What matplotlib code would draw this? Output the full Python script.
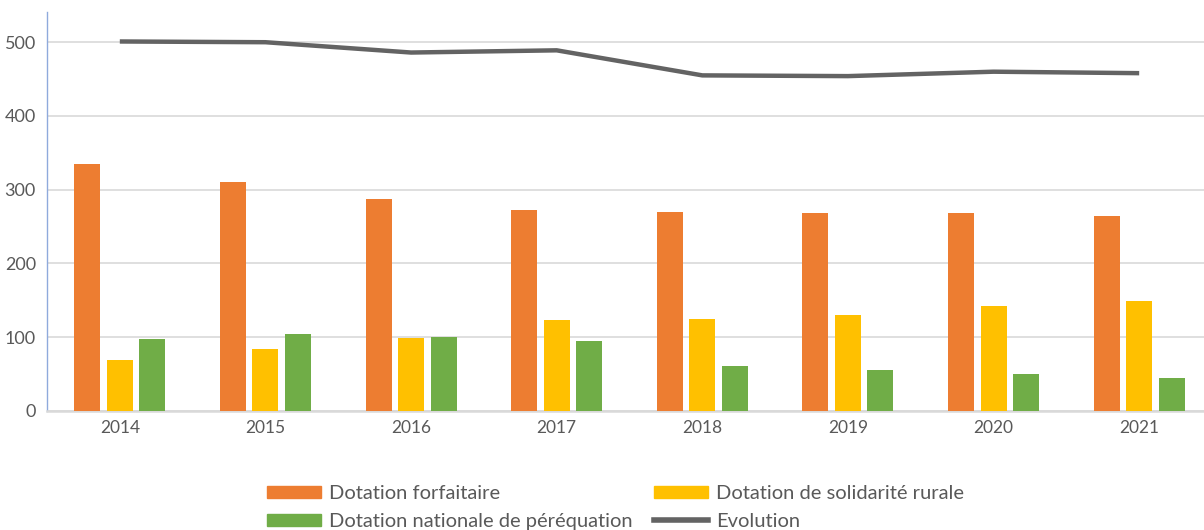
import matplotlib
matplotlib.use("Agg")
import matplotlib.pyplot as plt
import numpy as np
from matplotlib.patches import Patch
from matplotlib.lines import Line2D

years = ["2014", "2015", "2016", "2017", "2018", "2019", "2020", "2021"]
dotation_forfaitaire = [335, 311, 287, 272, 270, 268, 268, 264]
dotation_solidarite_rurale = [69, 84, 99, 123, 124, 130, 142, 149]
dotation_nationale_perequation = [97, 104, 100, 95, 61, 55, 50, 44]
evolution = [501, 500, 486, 489, 455, 454, 460, 458]

labels = ["Dotation forfaitaire", "Dotation de solidarité rurale",
          "Dotation nationale de péréquation", "Evolution"]
c_orange = "#ED7D31"
c_yellow = "#FFC000"
c_green = "#70AD47"
c_line = "#636363"

plt.rcParams['font.family'] = ['Lato', 'DejaVu Sans']

W, H = 1204, 530
fig = plt.figure(figsize=(W / 100, H / 100), dpi=100)
left, right, top, bottom = 47, 1212, 12, 410.7
ax = fig.add_axes([left / W, 1 - bottom / H, (right - left) / W, (bottom - top) / H])

x = np.arange(len(years))
bw = 0.179
off = 0.223
ax.bar(x - off, dotation_forfaitaire, bw, color=c_orange, zorder=3)
ax.bar(x, dotation_solidarite_rurale, bw, color=c_yellow, zorder=3)
ax.bar(x + off, dotation_nationale_perequation, bw, color=c_green, zorder=3)
ax.plot(x, evolution, color=c_line, lw=3.2, zorder=4, solid_capstyle='butt')

ax.set_xlim(-0.5, len(years) - 0.5)
ax.set_ylim(0, 541)
ax.set_yticks([0, 100, 200, 300, 400, 500])
ax.set_xticks(x)
ax.set_xticklabels(years)
ax.yaxis.grid(True, color="#D9D9D9", lw=1.2, zorder=0)
ax.set_axisbelow(True)
for s in ["top", "right"]:
    ax.spines[s].set_visible(False)
ax.spines["left"].set_color("#8FAADC")
ax.spines["left"].set_linewidth(1.0)
ax.spines["bottom"].set_color("#D9D9D9")
ax.spines["bottom"].set_linewidth(1.8)
ax.tick_params(axis='both', length=0, colors="#595959")
ax.tick_params(axis='y', labelsize=13, pad=8)
ax.tick_params(axis='x', labelsize=12.5, pad=7)

fs = 14.5
h_or = Patch(color=c_orange)
h_ye = Patch(color=c_yellow)
h_gr = Patch(color=c_green)
h_ln = Line2D([0], [0], color=c_line, lw=4)
common = dict(frameon=False, fontsize=fs, handlelength=2.7, handleheight=0.6,
              handletextpad=0.4, labelspacing=0.55, borderpad=0, borderaxespad=0,
              labelcolor="#595959", loc="upper left")
leg1 = fig.legend([h_or, h_gr], [labels[0], labels[2]],
                  bbox_to_anchor=(267 / W, 1 - 485 / H), **common)
leg2 = fig.legend([h_ye, h_ln], [labels[1], labels[3]],
                  bbox_to_anchor=(654 / W, 1 - 485 / H), **common)

fig.savefig("out.png", dpi=100)
